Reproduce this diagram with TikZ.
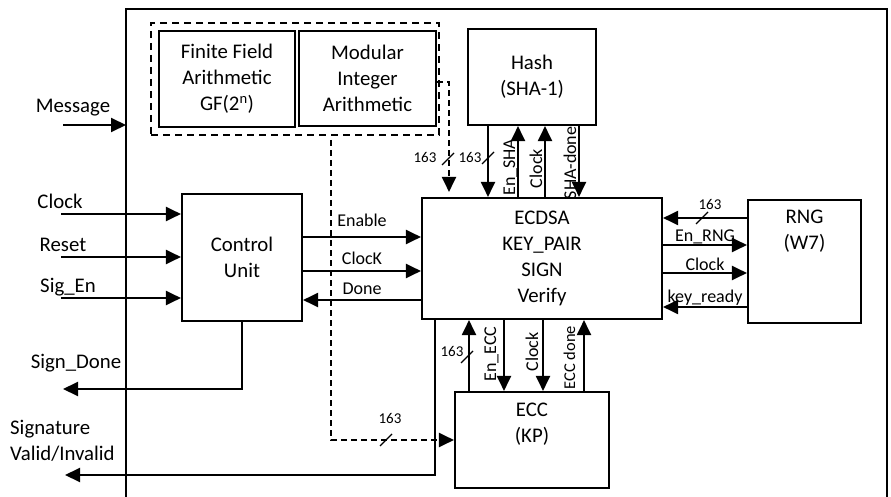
\documentclass[tikz,border=0pt]{standalone}
\usepackage{fontspec}
\setmainfont{Carlito}
\usepackage{tikz}
\usetikzlibrary{positioning,arrows.meta}

\newcommand\busmark[1]{\draw[bus] (#1) ++(-6,6) -- ++(12,-12);}

\begin{document}
\begin{tikzpicture}[
  x=1pt,y=-1pt,
  blk/.style={draw,line width=2.1pt,inner sep=0pt,align=center,font=\fontsize{20.8}{26}\selectfont},
  txt/.style={inner sep=0pt,align=center,font=\fontsize{20.8}{26}\selectfont},
  lbl/.style={inner sep=1pt,font=\fontsize{18}{20}\selectfont},
  num/.style={inner sep=0pt,font=\fontsize{15}{16}\selectfont},
  sig/.style={-{Triangle[length=15pt,width=14pt]},line width=2pt},
  dsh/.style={sig,dash pattern=on 6pt off 4pt},
  bus/.style={line width=1.3pt}]

  \useasboundingbox (0,0) rectangle (891,497);
  \draw[line width=2pt] (126,497) |- (887,9) -- (887,497);

  \node[draw,line width=2pt,dash pattern=on 7pt off 5pt,minimum width=288pt,minimum height=112pt] (grp) at (295,79) {};
  \node[blk,minimum width=136pt,minimum height=96pt] (ff) at (227,79) {Finite Field\\Arithmetic\\GF(2\textsuperscript{n})};
  \node[blk,minimum width=137pt,minimum height=95pt] (mod) at (367.5,78.5) {Modular\\Integer\\Arithmetic};
  \node[blk,minimum width=128pt,minimum height=96pt] (hash) at (532,77) {Hash\\(SHA-1)};
  \node[blk,minimum width=240pt,minimum height=121pt] (ecdsa) at (542,258.5) {ECDSA\\KEY\_PAIR\\SIGN\\Verify};
  \node[blk,minimum width=120pt,minimum height=127pt] (cu) at (242,257.5) {Control\\Unit};
  \node[blk,minimum width=113pt,minimum height=123pt] (rng) at (804.5,261.5) {};
  \node[txt,below=11pt of rng.north] (rngtxt) {RNG\\(W7)};
  \node[blk,minimum width=154pt,minimum height=96pt] (ecc) at (532,440) {};
  \node[txt,below=12pt of ecc.north] (ecctxt) {ECC\\(KP)};

  \coordinate (msgin) at (63,125);
  \coordinate (msgend) at (126,125);
  \draw[sig] (msgin) -- (msgend);
  \node[txt] (msglbl) at (73,108) {Message};

  \foreach \y/\t/\lx [count=\i] in {214/Clock/60,257/Reset/63,298/Sig\_En/68}{
    \coordinate (in\i) at (61,\y);
    \draw[sig] (in\i) -- (cu.west |- in\i);
    \node[txt,anchor=base] (inl\i) at (\lx,\y-6) {\t};
  }

  \foreach \y/\t/\g [count=\i] in {237/Enable/8,271/ClocK/4}{
    \coordinate (cl\i) at (0,\y);
    \draw[sig] (cu.east |- cl\i) -- node[lbl,above=\g pt] (clab\i) {\t} (ecdsa.west |- cl\i);
  }
  \coordinate (cl3) at (0,300);
  \draw[sig] (ecdsa.west |- cl3) -- node[lbl,above=3pt] (clab3) {Done} (cu.east |- cl3);

  \coordinate (sdout) at (63,389);
  \draw[sig] (cu.south) |- (sdout);
  \node[txt] (sdlbl) at (76,363) {Sign\_Done};

  \coordinate (svout) at (65,475);
  \draw[sig] ([xshift=14pt]ecdsa.south west) |- (svout);
  \node[txt,anchor=west,align=left] (svlbl) at (10,441) {Signature\\Valid/Invalid};

  \coordinate (dk) at (449,82);
  \draw[dsh,shorten >=5pt] ([yshift=-3.5pt]mod.east) -- (dk) -- (dk |- ecdsa.north);
  \busmark{448,159}
  \node[num] (n1) at (425,157) {163};

  \coordinate (dtap) at (331,140);
  \draw[dsh] (dtap) |- (ecc.west);
  \busmark{386,440}
  \node[num] (n2) at (390,418) {163};

  \foreach \n/\x in {ha/488,hb/518,hc/545,hd/579,ea/469,eb/504,ec/543,ed/584}{
    \coordinate (\n) at (\x,0);
  }
  \draw[sig] (hash.south -| ha) -- (ecdsa.north -| ha);
  \busmark{488,158}
  \node[num] (n3) at (470,157) {163};
  \draw[sig] (ecdsa.north -| hb) -- node[lbl,pos=0.42,xshift=-3pt,rotate=90,anchor=base] (lhb) {En\_SHA} (hash.south -| hb);
  \draw[sig] (ecdsa.north -| hc) -- node[lbl,pos=0.40,xshift=-3pt,rotate=90,anchor=base] (lhc) {Clock} (hash.south -| hc);
  \draw[sig] (hash.south -| hd) -- node[lbl,pos=0.52,xshift=-3pt,rotate=90,anchor=base] (lhd) {SHA-done} (ecdsa.north -| hd);

  \draw[sig] (ecc.north -| ea) -- (ecdsa.south -| ea);
  \busmark{467,357}
  \node[num] (n4) at (452,351) {163};
  \draw[sig] (ecdsa.south -| eb) -- node[lbl,pos=0.48,xshift=-8pt,rotate=90,anchor=base] (leb) {En\_ECC} (ecc.north -| eb);
  \draw[sig] (ecdsa.south -| ec) -- node[lbl,pos=0.45,xshift=-5pt,rotate=90,anchor=base] (lec) {Clock} (ecc.north -| ec);
  \draw[sig] (ecc.north -| ed) -- node[lbl,pos=0.47,xshift=-9pt,rotate=90,anchor=base,font=\fontsize{16.5}{18}\selectfont] (led) {ECC done} (ecdsa.south -| ed);

  \foreach \n/\y in {r1/218,r2/245,r3/273,r4/307}{
    \coordinate (\n) at (0,\y);
  }
  \draw[sig] (rng.west |- r1) -- (ecdsa.east |- r1);
  \busmark{702,218}
  \node[num] (n5) at (710,204) {163};
  \draw[sig] (ecdsa.east |- r2) -- node[lbl,above,inner sep=0pt] (lr2) {En\_RNG} (rng.west |- r2);
  \draw[sig] (ecdsa.east |- r3) -- node[lbl,above] (lr3) {Clock} (rng.west |- r3);
  \draw[sig] (rng.west |- r4) -- node[lbl,above] (lr4) {key\_ready} (ecdsa.east |- r4);
\end{tikzpicture}
\end{document}
